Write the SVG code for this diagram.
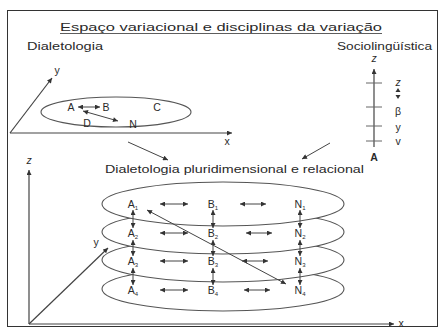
<svg xmlns="http://www.w3.org/2000/svg" width="440" height="328" viewBox="0 0 440 328">
<style>
text{font-family:"Liberation Sans",Arial,sans-serif;fill:#2a2a2a}
.t{font-size:11px}
.n{font-size:10.5px;text-anchor:middle}
.s{font-size:6px}
.ln{stroke:#444;stroke-width:1;fill:none}
.ax{stroke:#444;stroke-width:1.2;fill:none}
.el{stroke:#555;stroke-width:1.1;fill:#fff}
</style>
<defs>
<marker id="ah" viewBox="0 0 6 6" refX="6" refY="3" markerWidth="6" markerHeight="5" orient="auto-start-reverse" markerUnits="userSpaceOnUse">
<path d="M0,0 L6,3 L0,6 z" fill="#333"/>
</marker>
</defs>
<rect x="0" y="0" width="440" height="328" fill="#fff"/>
<rect x="7.5" y="10.5" width="430" height="316" fill="none" stroke="#333" stroke-width="1"/>

<g id="title">
<text class="t" x="60" y="31" textLength="322" lengthAdjust="spacingAndGlyphs">Espaço variacional e disciplinas da variação</text>
<line x1="60" y1="33.5" x2="382" y2="33.5" stroke="#333" stroke-width="0.8"/>
</g>

<g id="dialetologia">
<text class="t" x="27" y="50" textLength="76" lengthAdjust="spacingAndGlyphs">Dialetologia</text>
<line class="ax" x1="10" y1="133" x2="232" y2="133" marker-end="url(#ah)"/>
<line class="ax" x1="10" y1="133" x2="52" y2="78" marker-end="url(#ah)"/>
<text class="n" x="57" y="74" font-size="9">y</text>
<text class="n" x="227" y="145" font-size="9">x</text>
<ellipse class="el" cx="116" cy="112" rx="75" ry="15" fill="none"/>
</g>

<g id="node-A"><text class="n" x="71" y="111">A</text></g>
<g id="node-B"><text class="n" x="106" y="111">B</text></g>
<g id="node-C"><text class="n" x="157" y="111">C</text></g>
<g id="node-D"><text class="n" x="87" y="127">D</text></g>
<g id="node-N"><text class="n" x="133" y="128">N</text></g>

<g id="sociolinguistica">
<text class="t" x="337" y="50" textLength="95" lengthAdjust="spacingAndGlyphs">Sociolingüística</text>
<text class="n" x="374" y="62" font-size="8" font-style="italic">z</text>
<line class="ax" x1="374" y1="147" x2="374" y2="69" marker-end="url(#ah)"/>
<g stroke="#666" stroke-width="1">
<line x1="366" y1="83" x2="382" y2="83"/>
<line x1="366" y1="107" x2="382" y2="107"/>
<line x1="366" y1="126" x2="382" y2="126"/>
<line x1="366" y1="141" x2="382" y2="141"/>
</g>
<text class="n" x="398" y="86" font-size="8" font-style="italic">z</text>
<path d="M395.5,92 L398,88 L400.5,92 z M395.5,95 L398,99 L400.5,95 z" fill="#333"/>
<text class="n" x="398" y="115" font-size="9">β</text>
<text class="n" x="398" y="131" font-size="9">y</text>
<text class="n" x="398" y="145" font-size="9">v</text>
<text class="n" x="374" y="161" font-weight="bold">A</text>
</g>

<g id="pluri-title">
<text class="t" x="105" y="173" textLength="259" lengthAdjust="spacingAndGlyphs">Dialetologia pluridimensional e relacional</text>
</g>

<g id="pluri-frame">
<ellipse class="el" cx="223" cy="289" rx="121" ry="22"/>
<ellipse class="el" cx="223" cy="260" rx="121" ry="22"/>
<ellipse class="el" cx="223" cy="232" rx="121" ry="22"/>
<ellipse class="el" cx="223" cy="204" rx="121" ry="22"/>
<line class="ax" x1="29" y1="324" x2="29" y2="170" marker-end="url(#ah)"/>
<line class="ax" x1="29" y1="324" x2="394" y2="324" marker-end="url(#ah)"/>
<line class="ax" x1="29" y1="324" x2="108" y2="248" marker-end="url(#ah)"/>
<text class="n" x="29" y="164" font-size="8" font-style="italic">z</text>
<text class="n" x="96" y="246" font-size="9">y</text>
<text class="n" x="401" y="327" font-size="7">x</text>
</g>

<g id="node-A1"><text class="n" x="133" y="208">A<tspan class="s" dy="2">1</tspan></text></g>
<g id="node-B1"><text class="n" x="213" y="208">B<tspan class="s" dy="2">1</tspan></text></g>
<g id="node-N1"><text class="n" x="300" y="208">N<tspan class="s" dy="2">1</tspan></text></g>
<g id="node-A2"><text class="n" x="133" y="237">A<tspan class="s" dy="2">2</tspan></text></g>
<g id="node-B2"><text class="n" x="213" y="237">B<tspan class="s" dy="2">2</tspan></text></g>
<g id="node-N2"><text class="n" x="300" y="237">N<tspan class="s" dy="2">2</tspan></text></g>
<g id="node-A3"><text class="n" x="133" y="265">A<tspan class="s" dy="2">3</tspan></text></g>
<g id="node-B3"><text class="n" x="213" y="265">B<tspan class="s" dy="2">3</tspan></text></g>
<g id="node-N3"><text class="n" x="300" y="265">N<tspan class="s" dy="2">3</tspan></text></g>
<g id="node-A4"><text class="n" x="133" y="294">A<tspan class="s" dy="2">4</tspan></text></g>
<g id="node-B4"><text class="n" x="213" y="294">B<tspan class="s" dy="2">4</tspan></text></g>
<g id="node-N4"><text class="n" x="300" y="294">N<tspan class="s" dy="2">4</tspan></text></g>

<g id="connectors" class="ln">
<line x1="78" y1="107" x2="100" y2="107" marker-start="url(#ah)" marker-end="url(#ah)"/>
<line x1="83" y1="111" x2="118" y2="121" marker-start="url(#ah)" marker-end="url(#ah)"/>
<line x1="128" y1="142" x2="168" y2="160" marker-end="url(#ah)"/>
<line x1="330" y1="143" x2="302" y2="159" marker-end="url(#ah)"/>

<line x1="160" y1="204" x2="188" y2="204" marker-start="url(#ah)" marker-end="url(#ah)"/>
<line x1="240" y1="204" x2="266" y2="204" marker-start="url(#ah)" marker-end="url(#ah)"/>
<line x1="160" y1="233" x2="188" y2="233" marker-start="url(#ah)" marker-end="url(#ah)"/>
<line x1="246" y1="233" x2="272" y2="233" marker-start="url(#ah)" marker-end="url(#ah)"/>
<line x1="160" y1="261" x2="188" y2="261" marker-start="url(#ah)" marker-end="url(#ah)"/>
<line x1="242" y1="261" x2="268" y2="261" marker-start="url(#ah)" marker-end="url(#ah)"/>
<line x1="160" y1="290" x2="188" y2="290" marker-start="url(#ah)" marker-end="url(#ah)"/>
<line x1="244" y1="290" x2="270" y2="290" marker-start="url(#ah)" marker-end="url(#ah)"/>

<line x1="133" y1="210" x2="133" y2="228" marker-start="url(#ah)" marker-end="url(#ah)"/>
<line x1="133" y1="240" x2="133" y2="256" marker-start="url(#ah)" marker-end="url(#ah)"/>
<line x1="133" y1="268" x2="133" y2="285" marker-start="url(#ah)" marker-end="url(#ah)"/>
<line x1="213" y1="210" x2="213" y2="228" marker-start="url(#ah)" marker-end="url(#ah)"/>
<line x1="213" y1="240" x2="213" y2="256" marker-start="url(#ah)" marker-end="url(#ah)"/>
<line x1="213" y1="268" x2="213" y2="285" marker-start="url(#ah)" marker-end="url(#ah)"/>
<line x1="300" y1="210" x2="300" y2="228" marker-start="url(#ah)" marker-end="url(#ah)"/>
<line x1="300" y1="240" x2="300" y2="256" marker-start="url(#ah)" marker-end="url(#ah)"/>
<line x1="300" y1="268" x2="300" y2="285" marker-start="url(#ah)" marker-end="url(#ah)"/>

<line x1="147" y1="210" x2="286" y2="284" marker-start="url(#ah)" marker-end="url(#ah)"/>
</g>
</svg>
